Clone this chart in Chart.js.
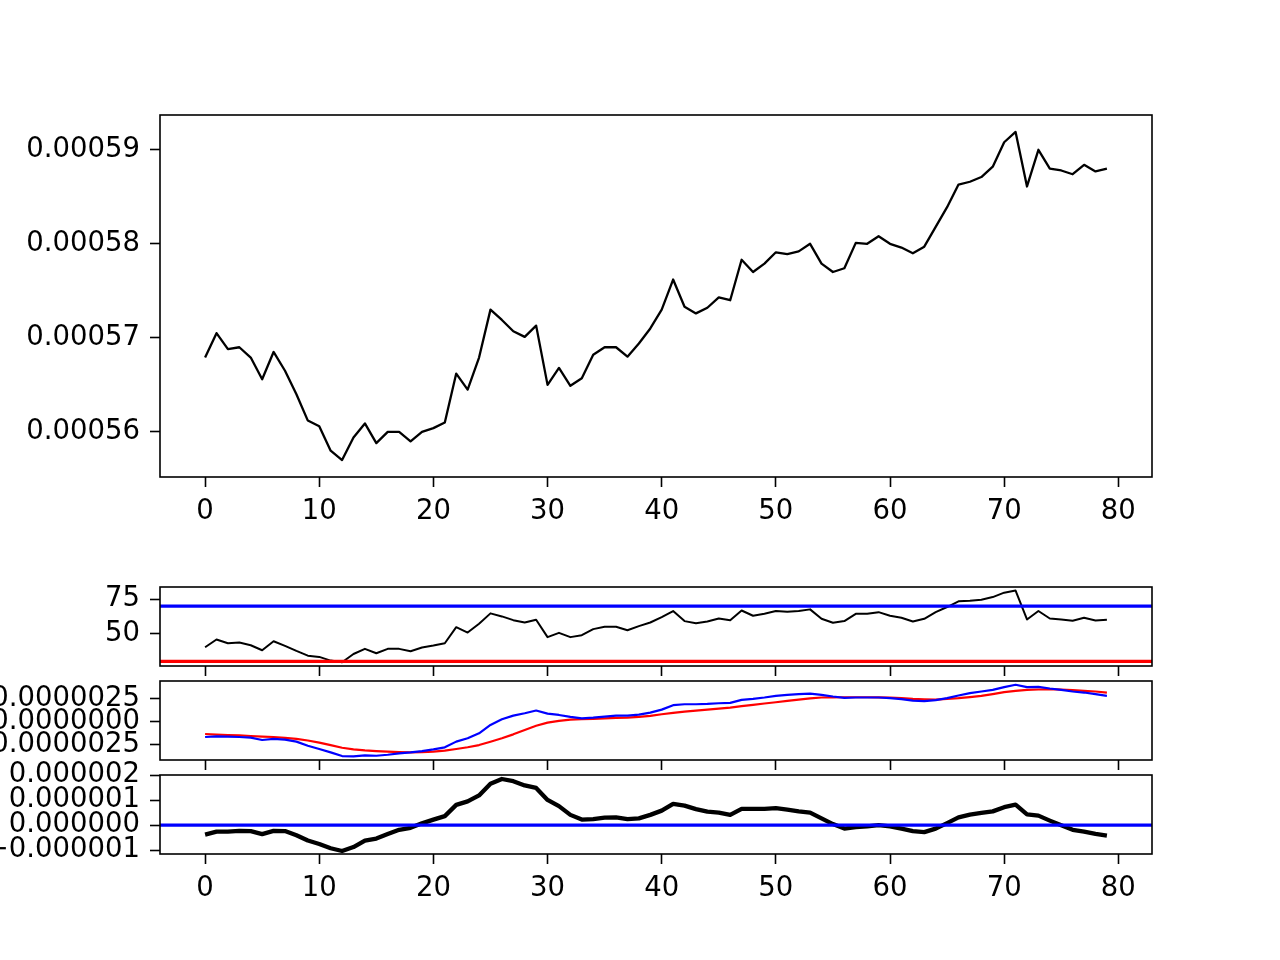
<!DOCTYPE html>
<html>
<head>
<meta charset="utf-8">
<script src="https://cdn.jsdelivr.net/npm/chart.js@4/dist/chart.umd.min.js"></script>
<style>
html,body{margin:0;padding:0;background:#fff;}
#wrap{position:relative;width:1280px;height:960px;overflow:hidden;background:#fff;}
canvas{position:absolute;left:0;}
</style>
</head>
<body>
<div id="wrap">
<canvas id="cPrice" width="1280" height="560" style="top:0px"></canvas>
<canvas id="cRsi" width="1280" height="130" style="top:560px"></canvas>
<canvas id="cMacd" width="1280" height="125" style="top:650px"></canvas>
<canvas id="cHist" width="1280" height="220" style="top:740px"></canvas>
</div>
<script>
// ---- data ----
const steps = Array.from({length: 80}, (_, i) => i);

const price = [
  0.0005679, 0.0005705, 0.0005688, 0.0005690, 0.0005679, 0.0005656, 0.0005685, 0.0005665, 0.0005640, 0.0005612,
  0.0005606, 0.0005580, 0.0005570, 0.0005594, 0.0005609, 0.0005588, 0.0005600, 0.0005600, 0.0005590, 0.0005600,
  0.0005604, 0.0005610, 0.0005662, 0.0005645, 0.0005679, 0.0005730, 0.0005719, 0.0005707, 0.0005701, 0.0005713,
  0.0005650, 0.0005668, 0.0005649, 0.0005657, 0.0005682, 0.0005690, 0.0005690, 0.0005680, 0.0005694, 0.0005710,
  0.0005730, 0.0005762, 0.0005733, 0.0005726, 0.0005732, 0.0005743, 0.0005740, 0.0005783, 0.0005770, 0.0005779,
  0.0005791, 0.0005789, 0.0005792, 0.0005800, 0.0005779, 0.0005770, 0.0005774, 0.0005801, 0.0005800, 0.0005808,
  0.0005800, 0.0005796, 0.0005790, 0.0005797, 0.0005818, 0.0005839, 0.0005863, 0.0005866, 0.0005871, 0.0005882,
  0.0005908, 0.0005919, 0.0005861, 0.0005900, 0.0005880, 0.0005878, 0.0005874, 0.0005884, 0.0005877, 0.0005880
];

const rsi = [
  40.2, 45.8, 43.1, 43.6, 41.6, 38.0, 44.5, 41.2, 37.5, 34.1,
  33.2, 30.5, 29.3, 35.3, 39.0, 35.8, 39.0, 39.0, 37.3, 40.0,
  41.4, 43.1, 54.7, 50.8, 57.2, 64.7, 62.5, 59.8, 58.1, 60.1,
  47.5, 50.6, 47.5, 48.9, 53.3, 55.0, 55.0, 52.5, 55.5, 58.1,
  62.0, 66.4, 59.1, 57.6, 58.8, 61.0, 59.8, 66.8, 63.0, 64.4,
  66.4, 65.9, 66.4, 67.6, 60.8, 57.9, 59.1, 64.4, 64.4, 65.6,
  63.0, 61.5, 58.8, 60.8, 65.6, 69.3, 73.4, 73.9, 74.6, 76.5,
  79.7, 81.2, 60.3, 66.4, 61.0, 60.3, 59.3, 61.5, 59.6, 60.1
];
const rsiLevelHigh = 70;
const rsiLevelLow = 30;

const macd = [
  -1.67e-6, -1.59e-6, -1.63e-6, -1.67e-6, -1.74e-6, -1.99e-6, -1.88e-6, -1.96e-6, -2.17e-6, -2.61e-6,
  -2.97e-6, -3.33e-6, -3.73e-6, -3.77e-6, -3.66e-6, -3.70e-6, -3.59e-6, -3.44e-6, -3.33e-6, -3.19e-6,
  -3.01e-6, -2.79e-6, -2.17e-6, -1.81e-6, -1.27e-6, -0.36e-6, 0.25e-6, 0.65e-6, 0.91e-6, 1.20e-6,
  0.87e-6, 0.72e-6, 0.51e-6, 0.36e-6, 0.43e-6, 0.54e-6, 0.65e-6, 0.65e-6, 0.76e-6, 0.98e-6,
  1.30e-6, 1.78e-6, 1.88e-6, 1.88e-6, 1.92e-6, 1.99e-6, 2.03e-6, 2.36e-6, 2.46e-6, 2.61e-6,
  2.79e-6, 2.90e-6, 2.97e-6, 3.04e-6, 2.90e-6, 2.72e-6, 2.57e-6, 2.61e-6, 2.61e-6, 2.61e-6,
  2.54e-6, 2.43e-6, 2.28e-6, 2.21e-6, 2.32e-6, 2.54e-6, 2.83e-6, 3.08e-6, 3.26e-6, 3.44e-6,
  3.73e-6, 3.99e-6, 3.73e-6, 3.77e-6, 3.59e-6, 3.44e-6, 3.26e-6, 3.15e-6, 2.97e-6, 2.79e-6
];

const signal = [
  -1.34e-6, -1.40e-6, -1.45e-6, -1.50e-6, -1.56e-6, -1.62e-6, -1.67e-6, -1.76e-6, -1.88e-6, -2.05e-6,
  -2.28e-6, -2.55e-6, -2.83e-6, -3.00e-6, -3.12e-6, -3.20e-6, -3.26e-6, -3.30e-6, -3.33e-6, -3.31e-6,
  -3.26e-6, -3.14e-6, -2.97e-6, -2.78e-6, -2.54e-6, -2.18e-6, -1.81e-6, -1.38e-6, -0.91e-6, -0.45e-6,
  -0.11e-6, 0.08e-6, 0.22e-6, 0.26e-6, 0.29e-6, 0.34e-6, 0.40e-6, 0.44e-6, 0.51e-6, 0.62e-6,
  0.80e-6, 0.95e-6, 1.09e-6, 1.20e-6, 1.30e-6, 1.41e-6, 1.52e-6, 1.67e-6, 1.81e-6, 1.96e-6,
  2.10e-6, 2.25e-6, 2.39e-6, 2.52e-6, 2.61e-6, 2.63e-6, 2.64e-6, 2.64e-6, 2.64e-6, 2.63e-6,
  2.61e-6, 2.54e-6, 2.46e-6, 2.42e-6, 2.39e-6, 2.46e-6, 2.54e-6, 2.66e-6, 2.79e-6, 2.98e-6,
  3.19e-6, 3.32e-6, 3.44e-6, 3.48e-6, 3.51e-6, 3.47e-6, 3.41e-6, 3.33e-6, 3.26e-6, 3.15e-6
];

const hist = [
  -0.38e-6, -0.26e-6, -0.26e-6, -0.23e-6, -0.24e-6, -0.36e-6, -0.23e-6, -0.24e-6, -0.41e-6, -0.62e-6,
  -0.76e-6, -0.93e-6, -1.04e-6, -0.88e-6, -0.62e-6, -0.54e-6, -0.36e-6, -0.19e-6, -0.11e-6, 0.07e-6,
  0.22e-6, 0.36e-6, 0.81e-6, 0.95e-6, 1.19e-6, 1.66e-6, 1.85e-6, 1.76e-6, 1.59e-6, 1.49e-6,
  1.01e-6, 0.76e-6, 0.41e-6, 0.22e-6, 0.24e-6, 0.30e-6, 0.31e-6, 0.24e-6, 0.27e-6, 0.41e-6,
  0.58e-6, 0.85e-6, 0.78e-6, 0.64e-6, 0.54e-6, 0.50e-6, 0.41e-6, 0.65e-6, 0.65e-6, 0.65e-6,
  0.68e-6, 0.62e-6, 0.55e-6, 0.50e-6, 0.27e-6, 0.04e-6, -0.14e-6, -0.08e-6, -0.05e-6, 0.00e-6,
  -0.05e-6, -0.14e-6, -0.24e-6, -0.28e-6, -0.14e-6, 0.08e-6, 0.31e-6, 0.42e-6, 0.49e-6, 0.55e-6,
  0.72e-6, 0.82e-6, 0.43e-6, 0.38e-6, 0.18e-6, -0.01e-6, -0.19e-6, -0.26e-6, -0.35e-6, -0.42e-6
];
const histZero = 0;

// tick values / labels
const xTicks = [0, 10, 20, 30, 40, 50, 60, 70, 80];
const xTickLabels = ["0", "10", "20", "30", "40", "50", "60", "70", "80"];
const priceTicks = [0.00056, 0.00057, 0.00058, 0.00059];
const priceTickLabels = ["0.00056", "0.00057", "0.00058", "0.00059"];
const rsiTicks = [50, 75];
const rsiTickLabels = ["50", "75"];
const macdTicks = [-2.5e-6, 0, 2.5e-6];
const macdTickLabels = ["\u22120.0000025", "0.0000000", "0.0000025"];
const histTicks = [-1e-6, 0, 1e-6, 2e-6];
const histTickLabels = ["\u22120.000001", "0.000000", "0.000001", "0.000002"];

// ---- chart helpers ----
const X_MIN = -3.95, X_MAX = 82.95;
const FONT = {family: "'DejaVu Sans'", size: 27.5};
Chart.defaults.font.family = "'DejaVu Sans'";
Chart.defaults.color = '#000';

const framePlugin = {
  id: 'frame',
  afterDatasetsDraw(chart) {
    const a = chart.chartArea, ctx = chart.ctx;
    ctx.save();
    ctx.strokeStyle = '#000';
    ctx.lineWidth = 1.6;
    ctx.strokeRect(a.left, a.top, a.right - a.left, a.bottom - a.top);
    ctx.restore();
  }
};

function pts(values) { return values.map((v, i) => ({x: steps[i], y: v})); }
function hline(level) { return [{x: X_MIN, y: level}, {x: X_MAX, y: level}]; }

function xScale(showLabels, height) {
  return {
    type: 'linear', min: X_MIN, max: X_MAX,
    afterFit: s => { s.height = height; s.paddingLeft = 0; s.paddingRight = 0; },
    afterBuildTicks: s => { s.ticks = xTicks.map(v => ({value: v})); },
    ticks: {
      display: showLabels, autoSkip: false, maxRotation: 0, font: FONT, color: '#000', padding: 8,
      callback: (v, i) => xTickLabels[i]
    },
    grid: {drawOnChartArea: false, drawTicks: true, tickLength: 10, tickWidth: 1.6, tickColor: '#000'},
    border: {display: false}
  };
}
function yScale(min, max, tickVals, tickLabels) {
  return {
    type: 'linear', min: min, max: max,
    afterFit: s => { s.width = 160; s.paddingTop = 0; s.paddingBottom = 0; },
    afterBuildTicks: s => { s.ticks = tickVals.map(v => ({value: v})); },
    ticks: {
      autoSkip: false, font: FONT, color: '#000', padding: 10,
      callback: (v, i) => tickLabels[i]
    },
    grid: {drawOnChartArea: false, drawTicks: true, tickLength: 10, tickWidth: 1.6, tickColor: '#000'},
    border: {display: false}
  };
}
function ds(data, color, width) {
  return {data: data, borderColor: color, borderWidth: width, pointRadius: 0, tension: 0,
          fill: false, borderJoinStyle: 'round', borderCapStyle: 'butt'};
}
function make(id, datasets, padTop, xShow, xHeight, yMin, yMax, yT, yL) {
  return new Chart(document.getElementById(id), {
    type: 'line',
    data: {datasets: datasets},
    options: {
      responsive: false, animation: false, devicePixelRatio: 1,
      layout: {padding: {top: padTop, left: 0, right: 128, bottom: 0}},
      plugins: {legend: {display: false}, tooltip: {enabled: false}},
      scales: {x: xScale(xShow, xHeight), y: yScale(yMin, yMax, yT, yL)}
    },
    plugins: [framePlugin]
  });
}

// price panel: area 115..477
make('cPrice', [ds(pts(price), '#000', 2.3)], 115, true, 83,
     0.0005552, 0.0005937, priceTicks, priceTickLabels);

// RSI panel: area 587..666 (canvas top 560)
make('cRsi', [
  ds(hline(rsiLevelHigh), '#0000ff', 3.3),
  ds(hline(rsiLevelLow), '#ff0000', 3.3),
  ds(pts(rsi), '#000', 2)
], 27, false, 24, 26.6, 83.8, rsiTicks, rsiTickLabels);

// MACD panel: area 681..760 (canvas top 650)
make('cMacd', [
  ds(pts(macd), '#0000ff', 2.2),
  ds(pts(signal), '#ff0000', 2.2)
], 31, false, 15, -4.16e-6, 4.40e-6, macdTicks, macdTickLabels);

// histogram panel: area 775..854 (canvas top 740)
make('cHist', [
  ds(hline(histZero), '#0000ff', 3.3),
  ds(pts(hist), '#000', 4.3)
], 35, true, 106, -1.16e-6, 2.01e-6, histTicks, histTickLabels);
</script>
</body>
</html>
